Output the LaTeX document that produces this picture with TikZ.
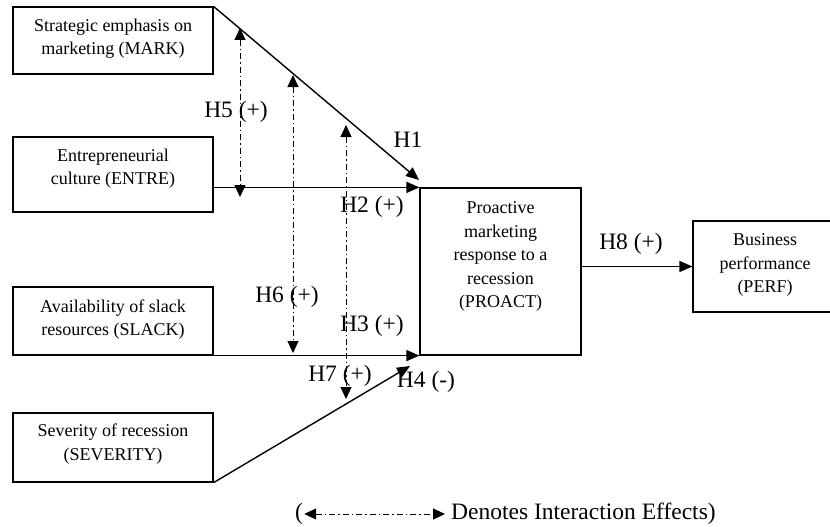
\documentclass[tikz,border=0pt]{standalone}
\usepackage{fontspec}
\setmainfont{Liberation Serif}
\usetikzlibrary{arrows.meta}
\begin{document}
\begin{tikzpicture}[x=1pt,y=-1pt,
  box/.style={draw, line width=1.2pt, inner sep=0pt},
  boxtext/.style={font=\fontsize{18}{23.5}\selectfont, align=center, inner sep=0pt},
  lab/.style={font=\fontsize{23.5}{26}\selectfont, inner sep=0pt},
  arr/.style={line width=1.4pt, -{Triangle[length=13pt,width=11pt]}},
  inter/.style={line width=1pt, dash pattern=on 6pt off 3pt on 1.5pt off 3pt,
    {Triangle[length=12pt,width=11pt]}-{Triangle[length=12pt,width=11pt]}}
]
\useasboundingbox (0,0) rectangle (830,527);
\fill[white] (0,0) rectangle (830,527);

% boxes
\node[box, minimum width=200pt, minimum height=67pt] (mark) at (113,40.5) {};
\node[box, minimum width=200pt, minimum height=75pt] (entre) at (113,174.5) {};
\node[box, minimum width=200pt, minimum height=68pt] (slack) at (113,321) {};
\node[box, minimum width=200pt, minimum height=69pt] (sev) at (113,447.5) {};
\node[box, minimum width=161pt, minimum height=167pt] (proact) at (500.5,271.5) {};
\node[box, minimum width=144pt, minimum height=91pt] (perf) at (765,266.5) {};

% box texts
\node[boxtext] (tmark) at (113,38.5) {Strategic emphasis on\\marketing (MARK)};
\node[boxtext] (tentre) at (113,168.5) {Entrepreneurial\\culture (ENTRE)};
\node[boxtext] (tslack) at (113,319.5) {Availability of slack\\resources (SLACK)};
\node[boxtext] (tsev) at (113,444) {Severity of recession\\(SEVERITY)};
\node[boxtext] (tproact) at (500.5,256.5) {Proactive\\marketing\\response to a\\recession\\(PROACT)};
\node[boxtext] (tperf) at (765,265) {Business\\performance\\(PERF)};

% connector end points
\coordinate (h1end) at (419,180);
\coordinate (h4end) at (410,366);

% main arrows
\draw[arr] (mark.north east) -- (h1end);
\draw[arr] (entre.east |- proact.north) -- (proact.north west);
\draw[arr] (slack.south east) -- (proact.south west);
\draw[arr] (sev.south east) -- (h4end);
\draw[arr] (proact.east |- perf.west) -- (perf.west);

% interaction arrows
\coordinate (h5a) at (240,28);
\coordinate (h5b) at (240,197);
\coordinate (h6a) at (293,75);
\coordinate (h6b) at (293,353);
\coordinate (h7a) at (346,125);
\coordinate (h7b) at (346,399);
\draw[inter] (h5a) -- (h5b);
\draw[inter] (h6a) -- (h6b);
\draw[inter] (h7a) -- (h7b);

% labels
\node[lab] (l5) at (236,112) {H5 (+)};
\node[lab] (l1) at (408,140) {H1};
\node[lab] (l2) at (372,207) {H2 (+)};
\node[lab] (l6) at (287,297) {H6 (+)};
\node[lab] (l3) at (372,326) {H3 (+)};
\node[lab] (l7) at (340,376) {H7 (+)};
\node[lab] (l4) at (426,382) {H4 (-)};
\node[lab] (l8) at (631,244) {H8 (+)};

% legend
\node[lab, anchor=west] (lp) at (295,514) {(};
\node[lab, anchor=west] (legtext) at (451,514) {Denotes Interaction Effects)};
\draw[inter, shorten <=1pt, shorten >=6pt] (lp.east) -- (legtext.west);
\end{tikzpicture}
\end{document}
